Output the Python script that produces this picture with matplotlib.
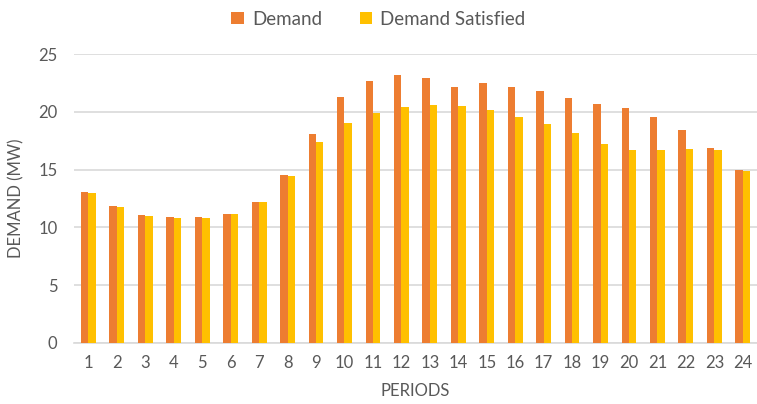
import matplotlib
matplotlib.use("Agg")
import matplotlib.pyplot as plt
import numpy as np

periods = [str(i) for i in range(1, 25)]
demand = [13.03, 11.82, 11.1, 10.93, 10.93, 11.18, 12.22, 14.56, 18.1, 21.27, 22.66, 23.2,
          22.95, 22.17, 22.49, 22.17, 21.77, 21.19, 20.7, 20.38, 19.58, 18.45, 16.89, 14.99]
satisfied = [12.94, 11.73, 11.01, 10.84, 10.84, 11.18, 12.22, 14.47, 17.38, 19.0, 19.92, 20.44,
             20.61, 20.53, 20.15, 19.58, 18.94, 18.19, 17.24, 16.72, 16.72, 16.81, 16.72, 14.88]
yticks = [0, 5, 10, 15, 20, 25]

plt.rcParams['font.family'] = ['Lato', 'DejaVu Sans']
text_col = '#595959'

fig = plt.figure(figsize=(7.57, 4.04), dpi=100)
ax = fig.add_axes([0.098, 0.151, 0.902, 0.715])

x = np.arange(len(periods))
w = 0.26
ax.bar(x - w / 2, demand, width=w, color='#ED7D31', label='Demand', zorder=3)
ax.bar(x + w / 2, satisfied, width=w, color='#FFC000', label='Demand Satisfied', zorder=3)

ax.set_xlim(-0.5, len(periods) - 0.5)
ax.set_ylim(0, 25)
ax.set_yticks(yticks)
ax.set_xticks(x)
ax.set_xticklabels(periods)
ax.grid(axis='y', color='#D9D9D9', linewidth=1.2, zorder=0)
for s in ['top', 'right', 'left']:
    ax.spines[s].set_visible(False)
ax.spines['bottom'].set_color('#D9D9D9')
ax.spines['bottom'].set_linewidth(1.2)
ax.tick_params(axis='both', length=0, labelsize=12, colors=text_col)
ax.tick_params(axis='x', pad=9)
ax.tick_params(axis='y', pad=12)

ax.set_xlabel('PERIODS', fontsize=12, color=text_col, labelpad=8)
ax.set_ylabel('DEMAND (MW)', fontsize=12, color=text_col, labelpad=10)

fig.legend(loc='upper center', bbox_to_anchor=(0.5, 1.015), ncol=2, frameon=False,
           fontsize=13.5, labelcolor=text_col, handlelength=0.65, handleheight=0.65,
           columnspacing=2.0, handletextpad=0.45)

fig.savefig('out.png', dpi=100)
